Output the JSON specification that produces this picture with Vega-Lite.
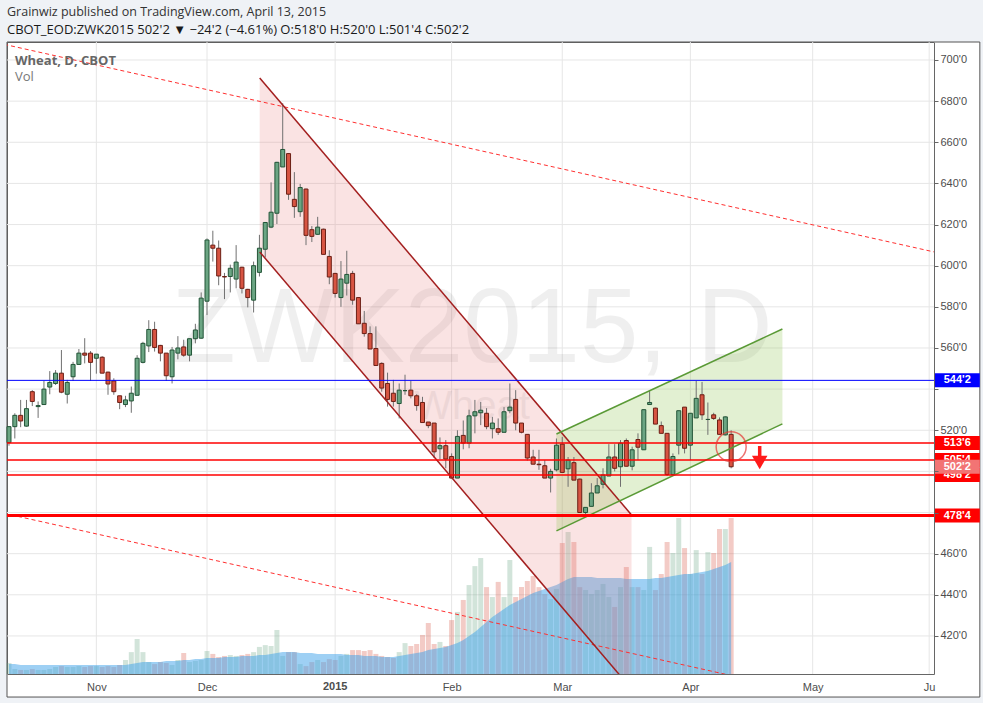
{
"$schema":"https://vega.github.io/schema/vega-lite/v6.json",
"width":927,"height":632,
"autosize":{"type":"none"},
"padding":{"left":7,"top":42,"right":49,"bottom":29},
"background":"#eff2f6",
"config":{"view":{"stroke":"#6b6b6b","strokeWidth":1,"fill":"#ffffff"},"font":"Liberation Sans","axisX":{"grid":false,"ticks":false,"title":null,"domainColor":"#666666","labelColor":"#4d4d4d","labelFontSize":11,"labelFont":"Liberation Sans","labelPadding":7,"labelOverlap":false,"labelFlush":false,"labelBound":false,"zindex":1}},
"title":{"text":"Grainwiz published on TradingView.com, April 13, 2015","subtitle":"CBOT_EOD:ZWK2015 502'2 ▼ −24'2 (−4.61%) O:518'0 H:520'0 L:501'4 C:502'2","anchor":"start","frame":"group","offset":5,"font":"Open Sans","fontSize":12.5,"fontWeight":"normal","color":"#333333","subtitleFont":"Open Sans","subtitleFontSize":13,"subtitleColor":"#1a1a1a","subtitleFontWeight":"normal","subtitlePadding":5,"zindex":1},
"datasets":{"candles":[
{"i":0,"o":514,"h":522,"l":512.5,"c":521.75,"v":4900,"ma":4430},
{"i":1,"o":521.75,"h":528.25,"l":516,"c":527.25,"v":2200,"ma":4430},
{"i":2,"o":527.25,"h":534.75,"l":521.5,"c":524.5,"v":1800,"ma":3990},
{"i":3,"o":522,"h":534.75,"l":521.75,"c":530.5,"v":1800,"ma":3990},
{"i":4,"o":538.75,"h":539.5,"l":531.75,"c":534,"v":2200,"ma":3990},
{"i":5,"o":531.5,"h":534,"l":526,"c":532,"v":1800,"ma":3990},
{"i":6,"o":532.5,"h":544,"l":532.5,"c":540,"v":1800,"ma":3990},
{"i":7,"o":541,"h":548.75,"l":537.5,"c":543.25,"v":2200,"ma":3990},
{"i":8,"o":542.75,"h":549.25,"l":542,"c":547.75,"v":3100,"ma":3990},
{"i":9,"o":547.75,"h":559,"l":538,"c":538.5,"v":3500,"ma":3990},
{"i":10,"o":537.5,"h":544.5,"l":533,"c":543.25,"v":3100,"ma":3990},
{"i":11,"o":546,"h":553.25,"l":544,"c":552,"v":3100,"ma":3990},
{"i":12,"o":552,"h":559.5,"l":552,"c":557.5,"v":3500,"ma":3990},
{"i":13,"o":557.5,"h":564.75,"l":552.5,"c":556.5,"v":3100,"ma":3990},
{"i":14,"o":557.5,"h":558.5,"l":544,"c":553,"v":3500,"ma":3990},
{"i":15,"o":555,"h":557,"l":547.5,"c":557,"v":3500,"ma":3990},
{"i":16,"o":555.5,"h":556,"l":547.75,"c":547.75,"v":3100,"ma":3990},
{"i":17,"o":548.25,"h":548.5,"l":537.25,"c":542.5,"v":3500,"ma":3990},
{"i":18,"o":544,"h":545.25,"l":537.25,"c":538.75,"v":3100,"ma":3990},
{"i":19,"o":536.75,"h":536.75,"l":530.25,"c":533.5,"v":4000,"ma":3990},
{"i":20,"o":532.5,"h":536.75,"l":531.25,"c":534.75,"v":6200,"ma":3990},
{"i":21,"o":534.25,"h":541.25,"l":528.5,"c":538,"v":9700,"ma":4430},
{"i":22,"o":537,"h":556.5,"l":537,"c":555,"v":15500,"ma":4870},
{"i":23,"o":553,"h":563,"l":552.5,"c":562.25,"v":9700,"ma":5320},
{"i":24,"o":561,"h":573.5,"l":558,"c":569,"v":5300,"ma":5320},
{"i":25,"o":569,"h":572.75,"l":558.25,"c":560.25,"v":4400,"ma":5320},
{"i":26,"o":561.25,"h":561.5,"l":553.5,"c":557.5,"v":5300,"ma":5320},
{"i":27,"o":557.5,"h":557.5,"l":544,"c":546.5,"v":4900,"ma":5760},
{"i":28,"o":546,"h":560.5,"l":542.75,"c":559,"v":4000,"ma":5760},
{"i":29,"o":557.5,"h":565.75,"l":554.5,"c":560,"v":6200,"ma":5760},
{"i":30,"o":560.5,"h":564,"l":555.75,"c":556.5,"v":9300,"ma":6200},
{"i":31,"o":556.5,"h":564.5,"l":553.5,"c":564.5,"v":5300,"ma":6200},
{"i":32,"o":564.5,"h":571.75,"l":562.25,"c":568.75,"v":5800,"ma":6650},
{"i":33,"o":564.75,"h":587,"l":564.5,"c":584.25,"v":6200,"ma":6650},
{"i":34,"o":582.75,"h":613.25,"l":576,"c":612.5,"v":10200,"ma":7090},
{"i":35,"o":610,"h":617,"l":602,"c":608.5,"v":8900,"ma":7090},
{"i":36,"o":608.5,"h":612.25,"l":590.5,"c":595,"v":7500,"ma":7090},
{"i":37,"o":594.75,"h":596.5,"l":583.75,"c":594.5,"v":8000,"ma":7530},
{"i":38,"o":594.75,"h":600.5,"l":587,"c":598.75,"v":8400,"ma":7530},
{"i":39,"o":593.5,"h":610,"l":589,"c":601.75,"v":8000,"ma":7530},
{"i":40,"o":599.25,"h":599.5,"l":586.5,"c":589,"v":8400,"ma":7970},
{"i":41,"o":588.5,"h":588.75,"l":579.75,"c":584.5,"v":8900,"ma":7970},
{"i":42,"o":583.25,"h":602,"l":577.25,"c":600,"v":9700,"ma":7970},
{"i":43,"o":596.75,"h":615,"l":594.75,"c":608.5,"v":12000,"ma":8420},
{"i":44,"o":608,"h":621.25,"l":604,"c":621,"v":12800,"ma":8420},
{"i":45,"o":618.75,"h":640.5,"l":618.25,"c":626,"v":12400,"ma":8860},
{"i":46,"o":625.5,"h":650.5,"l":620.25,"c":650.25,"v":19500,"ma":9300},
{"i":47,"o":648,"h":679,"l":648,"c":656.5,"v":8000,"ma":9750},
{"i":48,"o":654.5,"h":654.75,"l":632,"c":634.75,"v":9700,"ma":9750},
{"i":49,"o":632.25,"h":645.5,"l":623.25,"c":628.75,"v":9700,"ma":9750},
{"i":50,"o":626.25,"h":639.75,"l":623.75,"c":638,"v":4400,"ma":9300},
{"i":51,"o":637.25,"h":637.5,"l":610,"c":614.75,"v":3500,"ma":9300},
{"i":52,"o":617.5,"h":619.25,"l":611.5,"c":614.25,"v":5300,"ma":9300},
{"i":53,"o":615.25,"h":623.75,"l":615,"c":618.75,"v":6200,"ma":8860},
{"i":54,"o":617.75,"h":618,"l":605.5,"c":605.5,"v":5300,"ma":8860},
{"i":55,"o":604.5,"h":607.5,"l":591,"c":594.5,"v":6600,"ma":8860},
{"i":56,"o":596.25,"h":596.5,"l":584.5,"c":586.5,"v":6200,"ma":8860},
{"i":57,"o":584.5,"h":602.25,"l":580,"c":593.5,"v":8000,"ma":8860},
{"i":58,"o":591.5,"h":607.25,"l":585.5,"c":595.75,"v":8900,"ma":8420},
{"i":59,"o":596.25,"h":597.5,"l":581,"c":583.25,"v":10600,"ma":8420},
{"i":60,"o":584.5,"h":584.75,"l":571.75,"c":571.75,"v":10600,"ma":8420},
{"i":61,"o":572,"h":578,"l":565.5,"c":567,"v":10200,"ma":7970},
{"i":62,"o":567,"h":570.5,"l":559.5,"c":559.5,"v":10600,"ma":7970},
{"i":63,"o":559.75,"h":570.5,"l":551.5,"c":551.5,"v":8900,"ma":7970},
{"i":64,"o":552.5,"h":553,"l":538.75,"c":540.5,"v":8000,"ma":7530},
{"i":65,"o":542.75,"h":548,"l":531.5,"c":535,"v":7500,"ma":7530},
{"i":66,"o":538,"h":544.5,"l":531.5,"c":534,"v":7100,"ma":7530},
{"i":67,"o":533,"h":542.75,"l":525.75,"c":539.5,"v":9700,"ma":7970},
{"i":68,"o":539.25,"h":547,"l":537.25,"c":539.25,"v":13700,"ma":8420},
{"i":69,"o":539.5,"h":544,"l":535.5,"c":536.75,"v":12400,"ma":8860},
{"i":70,"o":536.75,"h":537.5,"l":529.5,"c":532,"v":13300,"ma":9300},
{"i":71,"o":533.5,"h":536.25,"l":523.75,"c":523.75,"v":17300,"ma":9750},
{"i":72,"o":524,"h":524,"l":521,"c":522.25,"v":22600,"ma":10630},
{"i":73,"o":523.5,"h":523.5,"l":506.5,"c":509.5,"v":13300,"ma":11080},
{"i":74,"o":511,"h":516.5,"l":506,"c":512.5,"v":14200,"ma":11520},
{"i":75,"o":512.5,"h":515.25,"l":501.5,"c":506,"v":12400,"ma":11960},
{"i":76,"o":507.25,"h":508.75,"l":496.75,"c":496.75,"v":23900,"ma":12850},
{"i":77,"o":496.75,"h":520,"l":496.75,"c":517,"v":27500,"ma":13730},
{"i":78,"o":517.5,"h":524.75,"l":510.75,"c":513.75,"v":32800,"ma":15060},
{"i":79,"o":513.75,"h":530,"l":511.25,"c":527,"v":39400,"ma":16830},
{"i":80,"o":527,"h":534.75,"l":518.5,"c":529,"v":47800,"ma":18610},
{"i":81,"o":528.5,"h":533.75,"l":522.5,"c":529.75,"v":51400,"ma":20820},
{"i":82,"o":528.25,"h":530.75,"l":520.5,"c":521.75,"v":38500,"ma":23040},
{"i":83,"o":520.75,"h":526.5,"l":516,"c":523.5,"v":34100,"ma":25250},
{"i":84,"o":520.75,"h":525.75,"l":517.75,"c":519,"v":40800,"ma":27020},
{"i":85,"o":519,"h":531.25,"l":519,"c":529,"v":34100,"ma":28800},
{"i":86,"o":529.5,"h":542.75,"l":528.25,"c":531.25,"v":50500,"ma":30570},
{"i":87,"o":535,"h":539.5,"l":520,"c":523.5,"v":34100,"ma":31900},
{"i":88,"o":523.5,"h":523.5,"l":518.5,"c":519,"v":38500,"ma":33230},
{"i":89,"o":518,"h":518,"l":505.25,"c":506.5,"v":41200,"ma":34550},
{"i":90,"o":507,"h":510.5,"l":503.5,"c":503.5,"v":43400,"ma":35880},
{"i":91,"o":503.5,"h":510.5,"l":500.75,"c":503.25,"v":38500,"ma":36770},
{"i":92,"o":502.75,"h":505.5,"l":496.75,"c":496.75,"v":35400,"ma":37660},
{"i":93,"o":496.75,"h":501.25,"l":489.75,"c":500,"v":33200,"ma":38540},
{"i":94,"o":500.75,"h":516,"l":500,"c":512.75,"v":37700,"ma":39430},
{"i":95,"o":513.25,"h":516.75,"l":499.5,"c":499.5,"v":58000,"ma":40760},
{"i":96,"o":501.25,"h":507,"l":492.5,"c":505.5,"v":62900,"ma":42090},
{"i":97,"o":504.25,"h":507,"l":495.75,"c":495.75,"v":58500,"ma":42970},
{"i":98,"o":496.25,"h":496.5,"l":480,"c":480,"v":38500,"ma":42970},
{"i":99,"o":480,"h":482.5,"l":478,"c":482.5,"v":37200,"ma":42970},
{"i":100,"o":483,"h":494.25,"l":483,"c":489.5,"v":35400,"ma":42970},
{"i":101,"o":489.5,"h":496.75,"l":489.5,"c":493,"v":37200,"ma":42530},
{"i":102,"o":493.75,"h":501.5,"l":491.75,"c":498.25,"v":39900,"ma":42530},
{"i":103,"o":497.75,"h":513.25,"l":497.75,"c":507,"v":34100,"ma":42530},
{"i":104,"o":507,"h":513.25,"l":500,"c":501.5,"v":29700,"ma":42530},
{"i":105,"o":502.25,"h":515.25,"l":492.5,"c":513.75,"v":38500,"ma":42530},
{"i":106,"o":515,"h":516,"l":502.5,"c":502.5,"v":47400,"ma":42090},
{"i":107,"o":502.5,"h":512,"l":500.5,"c":510.5,"v":38500,"ma":42090},
{"i":108,"o":515.5,"h":518.5,"l":505.5,"c":511.75,"v":38500,"ma":42090},
{"i":109,"o":510.5,"h":530,"l":510.5,"c":530,"v":37200,"ma":42090},
{"i":110,"o":532.5,"h":539.5,"l":532.5,"c":533.5,"v":56300,"ma":42090},
{"i":111,"o":530.75,"h":531,"l":523,"c":523,"v":37200,"ma":42530},
{"i":112,"o":522.25,"h":524.25,"l":518.5,"c":518.5,"v":44300,"ma":42530},
{"i":113,"o":518.5,"h":518.5,"l":497.75,"c":498.5,"v":58500,"ma":42970},
{"i":114,"o":498.5,"h":508.75,"l":498.5,"c":507.25,"v":53600,"ma":43410},
{"i":115,"o":512.75,"h":529.5,"l":508.25,"c":529.5,"v":69100,"ma":43860},
{"i":116,"o":531.25,"h":531.25,"l":508.75,"c":511.25,"v":55800,"ma":44300},
{"i":117,"o":512.75,"h":528.25,"l":505.5,"c":528.25,"v":44300,"ma":44300},
{"i":118,"o":526,"h":544,"l":526,"c":535.5,"v":54900,"ma":44740},
{"i":119,"o":537.25,"h":543.5,"l":525,"c":527.5,"v":44300,"ma":45190},
{"i":120,"o":525.25,"h":533.5,"l":517.75,"c":525.25,"v":54000,"ma":45630},
{"i":121,"o":527.5,"h":528.5,"l":525,"c":525.75,"v":53600,"ma":46520},
{"i":122,"o":525,"h":526.25,"l":518,"c":518,"v":64200,"ma":47400},
{"i":123,"o":517.75,"h":526.75,"l":517.5,"c":526.5,"v":64200,"ma":48290},
{"i":124,"o":518,"h":520,"l":501.5,"c":502.25,"v":69100,"ma":49620}
]},
"resolve":{"scale":{"y":"independent"}},
"layer":[
 {"data":{"values":[{}]},"mark":{"type":"rect","color":"#ffffff"},"encoding":{"x":{"datum":158.83,"type":"quantitative","scale":{"domain":[-0.343,158.83],"nice":false,"zero":false,"padding":0}},"x2":{"datum":166.7},"y":{"datum":390.3,"type":"quantitative","scale":{"domain":[401.5,708.75],"nice":false,"zero":false},"axis":null},"y2":{"datum":708.75}}},
 {"data":{"values":[{}]},"mark":{"type":"rect","color":"#ffffff"},"encoding":{"x":{"datum":-0.343,"type":"quantitative","scale":{"domain":[-0.343,158.83],"nice":false,"zero":false,"padding":0}},"x2":{"datum":166.7},"y":{"datum":390.3,"type":"quantitative","scale":{"domain":[401.5,708.75],"nice":false,"zero":false},"axis":null},"y2":{"datum":401.5}}},
 {"data":{"values":[{}]},"mark":{"type":"rect","filled":false,"stroke":"#555555","strokeWidth":1},"encoding":{"x":{"datum":-0.343,"type":"quantitative","scale":{"domain":[-0.343,158.83],"nice":false,"zero":false,"padding":0}},"x2":{"datum":166.7},"y":{"datum":390.3,"type":"quantitative","scale":{"domain":[401.5,708.75],"nice":false,"zero":false},"axis":null},"y2":{"datum":708.75}}},
 {"data":{"values":[{"i":15},{"i":34},{"i":56},{"i":76},{"i":95},{"i":117},{"i":138},{"i":158}]},"mark":{"type":"rule","color":"#e6e6e6","strokeWidth":1},"encoding":{
   "x":{"field":"i","type":"quantitative","scale":{"domain":[-0.343,158.83],"nice":false,"zero":false,"padding":0},"axis":{"orient":"bottom","values":[15,34,56,76,95,117,138,158],"labelExpr":"datum.value==15?'Nov':datum.value==34?'Dec':datum.value==56?'':datum.value==76?'Feb':datum.value==95?'Mar':datum.value==117?'Apr':datum.value==138?'May':'Ju'","title":null,"grid":false,"domainColor":"#666666","ticks":false,"labelColor":"#4d4d4d","labelFontSize":11,"labelFont":"Liberation Sans","labelPadding":7,"labelOverlap":false,"labelFlush":false,"labelBound":false,"zindex":1}}}},
 {"data":{"values":[{"level":420},{"level":440},{"level":460},{"level":480},{"level":500},{"level":520},{"level":540},{"level":560},{"level":580},{"level":600},{"level":620},{"level":640},{"level":660},{"level":680},{"level":700}]},"mark":{"type":"rule","color":"#e6e6e6","strokeWidth":1},"encoding":{
   "y":{"field":"level","type":"quantitative","scale":{"domain":[401.5,708.75],"nice":false,"zero":false},"axis":{"orient":"right","values":[420,440,460,480,500,520,540,560,580,600,620,640,660,680,700],"labelExpr":"(datum.value==540||datum.value==500||datum.value==480) ? '' : format(datum.value,'d') + \"'0\"","title":null,"grid":false,"domainColor":"#666666","tickColor":"#666666","tickSize":4,"labelColor":"#4d4d4d","labelFontSize":11,"labelFont":"Liberation Sans","labelPadding":2,"labelFlush":false,"labelBound":false,"zindex":1}}}},
 {"data":{"values":[{}]},"mark":{"type":"text","text":"ZWK2015, D","font":"Liberation Sans","fontSize":105,"color":"#000000","opacity":0.06,"align":"center","baseline":"middle"},"encoding":{"x":{"datum":79.5,"type":"quantitative","scale":{"domain":[-0.343,158.83],"nice":false,"zero":false,"padding":0}},"y":{"datum":568.7,"type":"quantitative","scale":{"domain":[401.5,708.75],"nice":false,"zero":false},"axis":null}}},
 {"data":{"values":[{}]},"mark":{"type":"text","text":"Wheat","font":"Liberation Sans","fontSize":40,"color":"#000000","opacity":0.06,"align":"center","baseline":"middle"},"encoding":{"x":{"datum":79.5,"type":"quantitative","scale":{"domain":[-0.343,158.83],"nice":false,"zero":false,"padding":0}},"y":{"datum":531.3,"type":"quantitative","scale":{"domain":[401.5,708.75],"nice":false,"zero":false},"axis":null}}},
 {"data":{"name":"candles"},"mark":{"type":"bar","size":5,"opacity":0.3},"encoding":{"x":{"field":"i","type":"quantitative","scale":{"domain":[-0.343,158.83],"nice":false,"zero":false,"padding":0}},"y":{"field":"v","type":"quantitative","scale":{"domain":[0,280000],"nice":false},"axis":null},"color":{"condition":{"test":"datum.c >= datum.o","value":"#6ba583"},"value":"#d75442"}}},
 {"data":{"name":"candles"},"mark":{"type":"area","color":"#3ea2ea","opacity":0.5},"encoding":{"x":{"field":"i","type":"quantitative","scale":{"domain":[-0.343,158.83],"nice":false,"zero":false,"padding":0}},"y":{"field":"ma","type":"quantitative","scale":{"domain":[0,280000],"nice":false},"axis":null}}},
 {"data":{"values":[{"i":43.05,"top":691.3,"bot":606.7},{"i":106.9,"top":478.8,"bot":394.2}]},"mark":{"type":"area","color":"#e57373","opacity":0.2,"clip":true},"encoding":{"x":{"field":"i","type":"quantitative","scale":{"domain":[-0.343,158.83],"nice":false,"zero":false,"padding":0}},"y":{"field":"top","type":"quantitative","scale":{"domain":[401.5,708.75],"nice":false,"zero":false},"axis":null},"y2":{"field":"bot"}}},
 {"data":{"values":[{"i":94.0,"top":518.2,"bot":471.1},{"i":132.8,"top":569.2,"bot":523.1}]},"mark":{"type":"area","color":"#8bc34a","opacity":0.25,"clip":true},"encoding":{"x":{"field":"i","type":"quantitative","scale":{"domain":[-0.343,158.83],"nice":false,"zero":false,"padding":0}},"y":{"field":"top","type":"quantitative","scale":{"domain":[401.5,708.75],"nice":false,"zero":false},"axis":null},"y2":{"field":"bot"}}},
 {"data":{"name":"candles"},"mark":{"type":"rule","color":"#707070","strokeWidth":1},"encoding":{
   "x":{"field":"i","type":"quantitative","scale":{"domain":[-0.343,158.83],"nice":false,"zero":false,"padding":0}},
   "y":{"field":"l","type":"quantitative","scale":{"domain":[401.5,708.75],"nice":false,"zero":false},"axis":null},
   "y2":{"field":"h"}}},
 {"data":{"name":"candles"},"mark":{"type":"bar","size":4,"strokeWidth":1},"encoding":{
   "x":{"field":"i","type":"quantitative","scale":{"domain":[-0.343,158.83],"nice":false,"zero":false,"padding":0}},
   "y":{"field":"o","type":"quantitative","scale":{"domain":[401.5,708.75],"nice":false,"zero":false},"axis":null},
   "y2":{"field":"c"},
   "color":{"condition":{"test":"datum.c >= datum.o","value":"#6ba583"},"value":"#d75442"},
   "stroke":{"condition":{"test":"datum.c >= datum.o","value":"#225437"},"value":"#6b1f15"}}},
 {"data":{"values":[{"i":-2,"p":708.35,"g":"a"},{"i":165,"p":602.8,"g":"a"},{"i":-2,"p":480.35,"g":"b"},{"i":135,"p":393.8,"g":"b"}]},"mark":{"type":"line","color":"#ff3030","strokeWidth":1,"strokeDash":[4,3],"clip":true},"encoding":{"x":{"field":"i","type":"quantitative","scale":{"domain":[-0.343,158.83],"nice":false,"zero":false,"padding":0}},"y":{"field":"p","type":"quantitative","scale":{"domain":[401.5,708.75],"nice":false,"zero":false},"axis":null},"detail":{"field":"g"}}},
 {"data":{"values":[{"i":43.05,"p":691.3,"g":"u"},{"i":106.9,"p":478.8,"g":"u"},{"i":43.05,"p":606.7,"g":"l"},{"i":106.9,"p":394.2,"g":"l"}]},"mark":{"type":"line","color":"#a31f1f","strokeWidth":1.5,"clip":true},"encoding":{"x":{"field":"i","type":"quantitative","scale":{"domain":[-0.343,158.83],"nice":false,"zero":false,"padding":0}},"y":{"field":"p","type":"quantitative","scale":{"domain":[401.5,708.75],"nice":false,"zero":false},"axis":null},"detail":{"field":"g"}}},
 {"data":{"values":[{"i":94.0,"p":518.2,"g":"u"},{"i":132.8,"p":569.2,"g":"u"},{"i":94.0,"p":471.1,"g":"l"},{"i":132.8,"p":523.1,"g":"l"}]},"mark":{"type":"line","color":"#5a9a36","strokeWidth":1.5,"clip":true},"encoding":{"x":{"field":"i","type":"quantitative","scale":{"domain":[-0.343,158.83],"nice":false,"zero":false,"padding":0}},"y":{"field":"p","type":"quantitative","scale":{"domain":[401.5,708.75],"nice":false,"zero":false},"axis":null},"detail":{"field":"g"}}},
 {"data":{"values":[{"level":544.25}]},"mark":{"type":"rule","color":"#0000ff","strokeWidth":1},"encoding":{"y":{"field":"level","type":"quantitative","scale":{"domain":[401.5,708.75],"nice":false,"zero":false},"axis":null}}},
 {"data":{"values":[{"level":513.75},{"level":505.5},{"level":498.25}]},"mark":{"type":"rule","color":"#ff0000","strokeWidth":1.5},"encoding":{"y":{"field":"level","type":"quantitative","scale":{"domain":[401.5,708.75],"nice":false,"zero":false},"axis":null}}},
 {"data":{"values":[{"level":478.5}]},"mark":{"type":"rule","color":"#ff0000","strokeWidth":3},"encoding":{"y":{"field":"level","type":"quantitative","scale":{"domain":[401.5,708.75],"nice":false,"zero":false},"axis":null}}},
 {"data":{"values":[{}]},"mark":{"type":"point","shape":"circle","size":900,"filled":false,"stroke":"#e53935","strokeWidth":1.5,"opacity":0.7},"encoding":{"x":{"datum":124.0,"type":"quantitative","scale":{"domain":[-0.343,158.83],"nice":false,"zero":false,"padding":0}},"y":{"datum":512.0,"type":"quantitative","scale":{"domain":[401.5,708.75],"nice":false,"zero":false},"axis":null}}},
 {"data":{"values":[{}]},"mark":{"type":"rule","color":"#ff1a1a","strokeWidth":3.5},"encoding":{"x":{"datum":128.9,"type":"quantitative","scale":{"domain":[-0.343,158.83],"nice":false,"zero":false,"padding":0}},"y":{"datum":512.35,"type":"quantitative","scale":{"domain":[401.5,708.75],"nice":false,"zero":false},"axis":null},"y2":{"datum":506.5}}},
 {"data":{"values":[{}]},"mark":{"type":"point","shape":"triangle-down","size":240,"filled":true,"color":"#ff1a1a","opacity":1},"encoding":{"x":{"datum":128.9,"type":"quantitative","scale":{"domain":[-0.343,158.83],"nice":false,"zero":false,"padding":0}},"y":{"datum":504.3,"type":"quantitative","scale":{"domain":[401.5,708.75],"nice":false,"zero":false},"axis":null}}},
 {"data":{"values":[{}]},"mark":{"type":"text","text":"Wheat, D, CBOT","font":"Open Sans","fontSize":13,"fontWeight":"bold","color":"#666666","align":"left","baseline":"middle"},"encoding":{"x":{"datum":1.03,"type":"quantitative","scale":{"domain":[-0.343,158.83],"nice":false,"zero":false,"padding":0}},"y":{"datum":699.5,"type":"quantitative","scale":{"domain":[401.5,708.75],"nice":false,"zero":false},"axis":null}}},
 {"data":{"values":[{}]},"mark":{"type":"text","text":"Vol","font":"Open Sans","fontSize":13,"color":"#777777","align":"left","baseline":"middle"},"encoding":{"x":{"datum":1.03,"type":"quantitative","scale":{"domain":[-0.343,158.83],"nice":false,"zero":false,"padding":0}},"y":{"datum":691.7,"type":"quantitative","scale":{"domain":[401.5,708.75],"nice":false,"zero":false},"axis":null}}},
 {"data":{"values":[{"i":56,"m":"2015"}]},"mark":{"type":"text","font":"Liberation Sans","fontSize":11,"fontWeight":"bold","color":"#4d4d4d","align":"center","baseline":"middle"},"encoding":{"x":{"field":"i","type":"quantitative","scale":{"domain":[-0.343,158.83],"nice":false,"zero":false,"padding":0}},"y":{"datum":395.2,"type":"quantitative","scale":{"domain":[401.5,708.75],"nice":false,"zero":false},"axis":null},"text":{"field":"m"}}},
 {"data":{"values":[{"level":505.5,"txt":"505'4"},{"level":498.25,"txt":"498'2"}]},"mark":{"type":"tick","orient":"horizontal","size":45,"thickness":14,"color":"#ff0000","opacity":1},"encoding":{"x":{"datum":162.83,"type":"quantitative","scale":{"domain":[-0.343,158.83],"nice":false,"zero":false,"padding":0}},"y":{"field":"level","type":"quantitative","scale":{"domain":[401.5,708.75],"nice":false,"zero":false},"axis":null}}},
 {"data":{"values":[{"level":505.5,"txt":"505'4"},{"level":498.25,"txt":"498'2"}]},"mark":{"type":"text","font":"Liberation Sans","fontSize":11,"fontWeight":"bold","color":"#ffffff","align":"center","baseline":"middle"},"encoding":{"x":{"datum":162.83,"type":"quantitative","scale":{"domain":[-0.343,158.83],"nice":false,"zero":false,"padding":0}},"y":{"field":"level","type":"quantitative","scale":{"domain":[401.5,708.75],"nice":false,"zero":false},"axis":null},"text":{"field":"txt"}}},
 {"data":{"values":[{"level":513.75,"txt":"513'6","kind":"level"},{"level":502.25,"txt":"502'2","kind":"last"},{"level":478.5,"txt":"478'4","kind":"level"},{"level":544.25,"txt":"544'2","kind":"res"}]},"mark":{"type":"tick","orient":"horizontal","size":45,"thickness":14,"opacity":1},"encoding":{"x":{"datum":162.83,"type":"quantitative","scale":{"domain":[-0.343,158.83],"nice":false,"zero":false,"padding":0}},"y":{"field":"level","type":"quantitative","scale":{"domain":[401.5,708.75],"nice":false,"zero":false},"axis":null},"color":{"field":"kind","type":"nominal","scale":{"domain":["level","last","res"],"range":["#ff0000","#f27474","#0000ff"]},"legend":null}}},
 {"data":{"values":[{"level":513.75,"txt":"513'6"},{"level":502.25,"txt":"502'2"},{"level":478.5,"txt":"478'4"},{"level":544.25,"txt":"544'2"}]},"mark":{"type":"text","font":"Liberation Sans","fontSize":11,"fontWeight":"bold","color":"#ffffff","align":"center","baseline":"middle"},"encoding":{"x":{"datum":162.83,"type":"quantitative","scale":{"domain":[-0.343,158.83],"nice":false,"zero":false,"padding":0}},"y":{"field":"level","type":"quantitative","scale":{"domain":[401.5,708.75],"nice":false,"zero":false},"axis":null},"text":{"field":"txt"}}}
]
}
